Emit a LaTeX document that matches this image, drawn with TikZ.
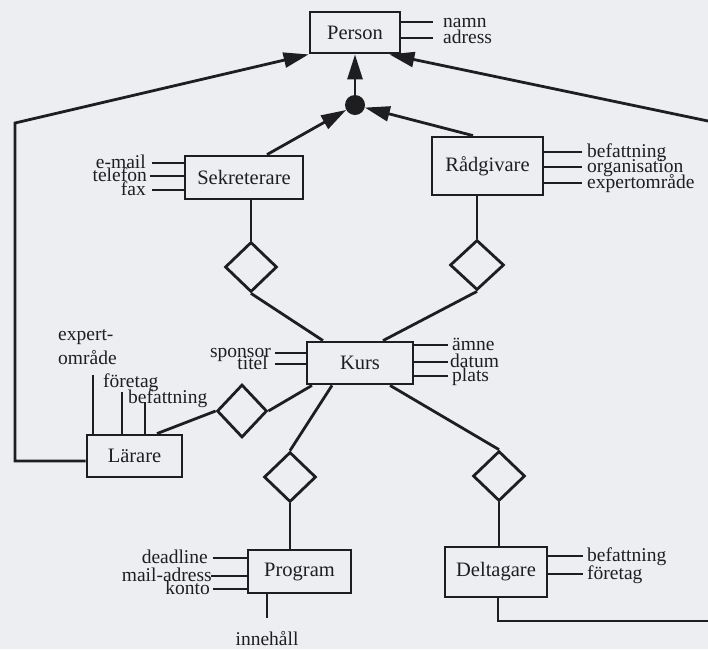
\documentclass[tikz,border=0pt]{standalone}
\usepackage{fontspec}
\setmainfont{Liberation Serif}
\usetikzlibrary{arrows.meta,shapes.geometric,calc}
\definecolor{ink}{RGB}{30,30,32}
\definecolor{paper}{RGB}{237,238,242}
\begin{document}
\begin{tikzpicture}[x=1pt,y=-1pt,
  every node/.style={font=\fontsize{20.5}{20}\selectfont, text=ink},
  ent/.style={draw=ink, line width=2.8pt, inner sep=0pt},
  rel/.style={diamond, draw=ink, line width=2.8pt, inner sep=0pt},
  con/.style={draw=ink, line width=2.8pt},
  arr/.style={con, -{Triangle[length=25pt,width=15pt]}},
  attrw/.style={anchor=base west, inner sep=0pt, font=\fontsize{19.5}{20}\selectfont},
  attre/.style={anchor=base east, inner sep=0pt, font=\fontsize{19.5}{20}\selectfont}]
\fill[paper] (0,0) rectangle (708,649);
\useasboundingbox (0,0) rectangle (708,649);

% entities
\node[ent, minimum width=90pt, minimum height=41pt] (person) at (355,32.5) {Person};
\node[ent, minimum width=118pt, minimum height=43pt] (sek) at (244,177.5) {Sekreterare};
\node[ent, minimum width=111pt, minimum height=58pt] (rad) at (487.5,166) {Rådgivare};
\node[ent, minimum width=106pt, minimum height=42pt] (kurs) at (360,363) {Kurs};
\node[ent, minimum width=95pt, minimum height=42pt] (lar) at (134.5,456) {Lärare};
\node[ent, minimum width=103pt, minimum height=43pt] (prog) at (299.5,571.5) {Program};
\node[ent, minimum width=102pt, minimum height=50pt] (delt) at (496,572) {Deltagare};

% is-a junction
\node[circle, fill=ink, minimum size=20pt, inner sep=0pt] (isa) at (355,105) {};

% relationships
\node[rel, minimum width=52pt, minimum height=50pt] (d1) at (251,267) {};
\node[rel, minimum width=54pt, minimum height=50pt] (d2) at (477,265) {};
\node[rel, minimum width=50pt, minimum height=53pt] (d3) at (242,411) {};
\node[rel, minimum width=52pt, minimum height=50pt] (d4) at (290,477) {};
\node[rel, minimum width=52pt, minimum height=50pt] (d5) at (499,476) {};

% generalisation arrows
\draw[arr] ([xshift=23pt]sek.north) -- (isa);
\draw[arr] ([xshift=-14.5pt]rad.north) -- (isa);
\draw[arr] (isa) -- (person);
\coordinate (cl) at (15,123);
\draw[arr] ([yshift=-5pt]lar.west) -| (cl) -- (person.south west);
\coordinate (cr) at (708,121);
\draw[arr] (cr) -- ([xshift=-12pt]person.south east);
\coordinate (cd) at (708,621);
\draw[con] ([xshift=2pt]delt.south) |- (cd);

% relationship connectors
\draw[con] ([xshift=7pt]sek.south) -- (d1.north);
\draw[con] (d1.south) -- ([xshift=-37pt]kurs.north);
\draw[con] ([xshift=-10.5pt]rad.south) -- (d2.north);
\draw[con] (d2.south) -- ([xshift=23pt]kurs.north);
\draw[con] ([xshift=-48pt]kurs.south) -- (d3.east);
\draw[con] (d3.west) -- ([xshift=22.5pt]lar.north);
\draw[con] ([xshift=-28pt]kurs.south) -- (d4.north);
\draw[con] (d4.south) -- (d4.south |- prog.north);
\draw[con] ([xshift=30pt]kurs.south) -- (d5.north);
\draw[con] (d5.south) -- (d5.south |- delt.north);

% Person attributes
\coordinate (p1) at (433,22); \coordinate (p2) at (433,38);
\draw[con] (person.east |- p1) -- (p1);
\draw[con] (person.east |- p2) -- (p2);
\node[attrw] (pa1) at (443,27.5) {namn};
\node[attrw] (pa2) at (443,43.5) {adress};

% Sekreterare attributes
\coordinate (s1) at (152,163); \coordinate (s2) at (150,176); \coordinate (s3) at (152,190);
\draw[con] (s1) -- (s1 -| sek.west);
\draw[con] (s2) -- (s2 -| sek.west);
\draw[con] (s3) -- (s3 -| sek.west);
\node[attre] (sa1) at (146,168.5) {e-mail};
\node[attre] (sa2) at (147,181.5) {telefon};
\node[attre] (sa3) at (146,195.5) {fax};

% Rådgivare attributes
\coordinate (r1) at (582,152); \coordinate (r2) at (582,167); \coordinate (r3) at (582,183);
\draw[con] (rad.east |- r1) -- (r1);
\draw[con] (rad.east |- r2) -- (r2);
\draw[con] (rad.east |- r3) -- (r3);
\node[attrw] (ra1) at (587,157.5) {befattning};
\node[attrw] (ra2) at (587,172.5) {organisation};
\node[attrw] (ra3) at (587,188.5) {expertområde};

% Kurs attributes
\coordinate (k1) at (448,345); \coordinate (k2) at (448,362); \coordinate (k3) at (448,376);
\draw[con] (kurs.east |- k1) -- (k1);
\draw[con] (kurs.east |- k2) -- (k2);
\draw[con] (kurs.east |- k3) -- (k3);
\node[attrw] (ka1) at (452,350.5) {ämne};
\node[attrw] (ka2) at (450,367.5) {datum};
\node[attrw] (ka3) at (452,381.5) {plats};
\coordinate (k4) at (275,353); \coordinate (k5) at (275,364);
\draw[con] (k4) -- (k4 -| kurs.west);
\draw[con] (k5) -- (k5 -| kurs.west);
\node[attre] (ka4) at (271,357) {sponsor};
\node[attre] (ka5) at (268,369.5) {titel};

% Lärare attributes
\coordinate (l1) at (93,375); \coordinate (l2) at (122,392); \coordinate (l3) at (145,402);
\draw[con] (l1) -- (l1 |- lar.north);
\draw[con] (l2) -- (l2 |- lar.north);
\draw[con] (l3) -- (l3 |- lar.north);
\node[attrw] (la1) at (58,340) {expert-};
\node[attrw] (la1b) at (58,364) {område};
\node[attrw] (la2) at (103,387) {företag};
\node[attrw] (la3) at (128,403) {befattning};

% Program attributes
\coordinate (g1) at (213,558); \coordinate (g2) at (211,576); \coordinate (g3) at (213,589);
\draw[con] (g1) -- (g1 -| prog.west);
\draw[con] (g2) -- (g2 -| prog.west);
\draw[con] (g3) -- (g3 -| prog.west);
\node[attre] (ga1) at (208,563.5) {deadline};
\node[attre] (ga2) at (212,581.5) {mail-adress};
\node[attre] (ga3) at (210,594.5) {konto};
\coordinate (g4) at (267,618);
\draw[con] ([xshift=-32.5pt]prog.south) -- (g4);
\node[attrw, anchor=base] (ga4) at (267,645) {innehåll};

% Deltagare attributes
\coordinate (t1) at (583,556); \coordinate (t2) at (583,574);
\draw[con] (delt.east |- t1) -- (t1);
\draw[con] (delt.east |- t2) -- (t2);
\node[attrw] (ta1) at (587,561.5) {befattning};
\node[attrw] (ta2) at (587,579.5) {företag};
\end{tikzpicture}
\end{document}
